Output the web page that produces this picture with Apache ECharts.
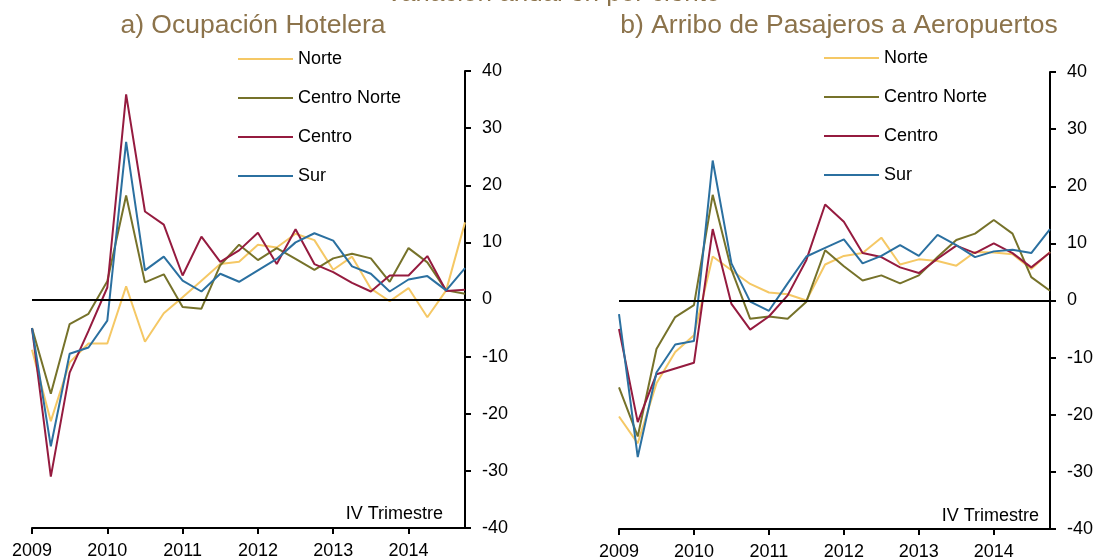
<!DOCTYPE html>
<html>
<head>
<meta charset="utf-8">
<script src="https://cdn.jsdelivr.net/npm/echarts@6/dist/echarts.min.js"></script>
<style>
  html, body { margin: 0; padding: 0; background: #fff; }
  #chart { width: 1097px; height: 559px; }
</style>
</head>
<body>
<div id="chart"></div>
<script>
var years = ['2009', '2010', '2011', '2012', '2013', '2014'];
var quarters = ['I', 'II', 'III', 'IV'];
var seriesNames = ['Norte', 'Centro Norte', 'Centro', 'Sur'];
var colorMap = ['#f5c865', '#76722a', '#951b3f', '#2b70a0'];

// a) Ocupación Hotelera
var hotelNorte = [-8.8, -21.3, -11, -7.7, -7.7, 2.3, -7.4, -2.4, 0.4, 3.3, 6.2, 6.6, 9.6, 9.1, 11.5, 10.4, 5.2, 7.5, 1.9, -0.3, 2.0, -3.1, 1.6, 13.5];
var hotelCentroNorte = [-5, -16.5, -4.3, -2.5, 3.2, 18.2, 3.0, 4.4, -1.3, -1.6, 6.0, 9.6, 6.9, 9.0, 7.1, 5.2, 7.2, 8.0, 7.2, 3.1, 9.0, 6.5, 1.6, 1.0];
var hotelCentro = [-5, -31, -12.8, -5.5, 2.1, 35.9, 15.4, 13.1, 4.2, 11.0, 6.6, 8.6, 11.7, 6.2, 12.3, 6.2, 4.8, 2.9, 1.4, 4.2, 4.2, 7.6, 1.5, 1.7];
var hotelSur = [-5, -25.7, -9.5, -8.4, -3.7, 27.6, 5.1, 7.5, 3.3, 1.4, 4.5, 3.1, 5.1, 7.1, 10.0, 11.6, 10.3, 5.8, 4.5, 1.4, 3.5, 4.1, 1.6, 5.5];

// b) Arribo de Pasajeros a Aeropuertos
var airNorte = [-20.3, -25, -14.5, -9, -6.1, 7.7, 5.3, 2.9, 1.4, 1.1, 0, 6.3, 7.8, 8.3, 11.0, 6.3, 7.2, 6.9, 6.1, 8.5, 8.4, 8.1, 5.5, 8.5];
var airCentroNorte = [-15.2, -23.8, -8.5, -2.9, -0.8, 18.5, 5.4, -3.2, -2.8, -3.2, -0.2, 8.8, 6.0, 3.5, 4.4, 3.0, 4.4, 7.6, 10.6, 11.7, 14.1, 11.7, 4.1, 1.7];
var airCentro = [-5, -21.3, -12.9, -11.9, -10.9, 12.5, -0.6, -5.1, -2.8, 0.9, 7.1, 16.8, 13.8, 8.3, 7.6, 5.8, 4.8, 7.3, 9.6, 8.3, 10.0, 8.3, 5.8, 8.4];
var airSur = [-2.4, -27.4, -12.6, -7.7, -7.1, 24.5, 6.5, -0.2, -1.8, 3.0, 7.7, 9.2, 10.7, 6.5, 7.8, 9.7, 7.8, 11.5, 9.7, 7.6, 8.6, 8.9, 8.3, 12.5];

var yTicks = { min: -40, max: 40, interval: 10 };

var font = 'Liberation Sans';
var titleColor = '#8c734b';

var categories = [];
years.forEach(function (y) {
  quarters.forEach(function (q) {
    categories.push(y + ' ' + q);
  });
});

function makeXAxis(gridIndex) {
  return {
    type: 'category',
    gridIndex: gridIndex,
    boundaryGap: false,
    data: categories,
    // keep the axis at the bottom (-40), the zero line is a markLine
    axisLine: { onZero: false, lineStyle: { color: '#000', width: 2 } },
    axisTick: { interval: 3, length: 6, lineStyle: { color: '#000', width: 2 } },
    axisLabel: {
      interval: 3,
      margin: 14,
      color: '#000',
      fontFamily: font,
      fontSize: 18,
      formatter: function (v) { return v.split(' ')[0]; }
    },
    splitLine: { show: false }
  };
}

function makeYAxis(gridIndex) {
  return {
    type: 'value',
    gridIndex: gridIndex,
    position: 'right',
    min: yTicks.min,
    max: yTicks.max,
    interval: yTicks.interval,
    axisLine: { show: true, lineStyle: { color: '#000', width: 2 } },
    axisTick: { show: true, length: 6, lineStyle: { color: '#000', width: 2 } },
    axisLabel: { margin: 17, color: '#000', fontFamily: font, fontSize: 18 },
    splitLine: { show: false }
  };
}

function makeSeries(values, idx, gridIndex) {
  var s = {
    name: seriesNames[idx],
    type: 'line',
    xAxisIndex: gridIndex,
    yAxisIndex: gridIndex,
    data: values,
    symbol: 'none',
    silent: true,
    lineStyle: { color: colorMap[idx], width: 2 },
    itemStyle: { color: colorMap[idx] }
  };
  if (idx === 0) {
    // black zero line across the plot
    s.markLine = {
      silent: true,
      symbol: ['none', 'none'],
      label: { show: false },
      lineStyle: { color: '#000', width: 2, type: 'solid' },
      data: [{ yAxis: 0 }]
    };
  }
  return s;
}

function makeLegend(left, top) {
  return {
    orient: 'vertical',
    left: left,
    top: top,
    padding: 0,
    itemWidth: 55,
    itemHeight: 14,
    itemGap: 21,
    selectedMode: false,
    itemStyle: { opacity: 0 },
    textStyle: { color: '#000', fontFamily: font, fontSize: 18 },
    data: seriesNames
  };
}

var series = [];
[hotelNorte, hotelCentroNorte, hotelCentro, hotelSur].forEach(function (v, i) {
  series.push(makeSeries(v, i, 0));
});
[airNorte, airCentroNorte, airCentro, airSur].forEach(function (v, i) {
  series.push(makeSeries(v, i, 1));
});

var myChart = echarts.init(document.getElementById('chart'), null, { renderer: 'canvas' });

var option = {
  animation: false,
  backgroundColor: '#fff',
  title: [
    {
      text: 'Variación anual en por ciento',
      left: 548, textAlign: 'center', top: -24,
      textStyle: { color: titleColor, fontFamily: font, fontSize: 26, fontWeight: 'normal' }
    },
    {
      text: 'a) Ocupación Hotelera',
      left: 248, textAlign: 'center', top: 7,
      textStyle: { color: titleColor, fontFamily: font, fontSize: 26.5, fontWeight: 'normal' }
    },
    {
      text: 'b) Arribo de Pasajeros a Aeropuertos',
      left: 834, textAlign: 'center', top: 7,
      textStyle: { color: titleColor, fontFamily: font, fontSize: 26.5, fontWeight: 'normal' }
    }
  ],
  legend: [makeLegend(237, 50), makeLegend(823, 49)],
  // fixed plot boxes, labels may sit outside them
  grid: [
    { left: 32, right: 632, top: 71, bottom: 31, outerBoundsMode: 'none', containLabel: false },
    { left: 619, right: 47, top: 72, bottom: 30, outerBoundsMode: 'none', containLabel: false }
  ],
  xAxis: [makeXAxis(0), makeXAxis(1)],
  yAxis: [makeYAxis(0), makeYAxis(1)],
  graphic: [
    { type: 'text', right: 654, top: 505, style: { text: 'IV Trimestre', fill: '#000', font: '18px "Liberation Sans"' } },
    { type: 'text', right: 58, top: 507, style: { text: 'IV Trimestre', fill: '#000', font: '18px "Liberation Sans"' } }
  ],
  series: series
};

myChart.setOption(option);
</script>
</body>
</html>
